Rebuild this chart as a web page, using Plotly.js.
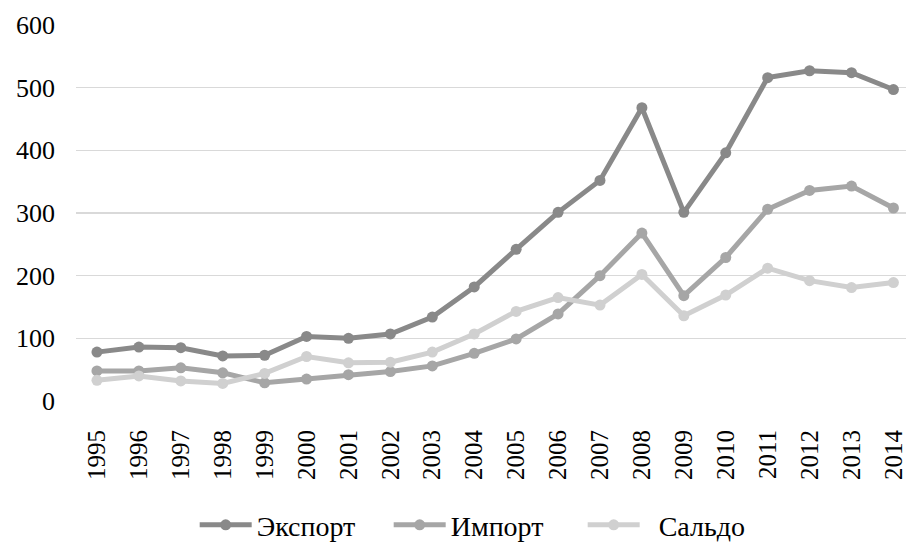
<!DOCTYPE html>
<html>
<head>
<meta charset="utf-8">
<script src="https://cdn.plot.ly/plotly-3.0.1.min.js"></script>
<style>html,body{margin:0;padding:0;background:#fff;overflow:hidden}</style>
</head>
<body>
<div id="chart" style="width:906px;height:560px"></div>
<script>
const years = ["1995","1996","1997","1998","1999","2000","2001","2002","2003","2004","2005","2006","2007","2008","2009","2010","2011","2012","2013","2014"];
const exportVals = [78, 86, 85, 72, 73, 103, 100, 107, 134, 182, 242, 301, 352, 468, 301, 396, 516, 527, 524, 497];
const importVals = [48, 48, 53, 45, 29, 35, 42, 47, 56, 76, 99, 139, 200, 268, 168, 229, 306, 336, 343, 308];
const saldoVals  = [33, 40, 32, 28, 44, 71, 61, 62, 78, 107, 143, 165, 153, 202, 136, 169, 212, 192, 181, 189];
const yTicks = [0, 100, 200, 300, 400, 500, 600];
const seriesNames = ["Экспорт", "Импорт", "\u00a0\u00a0Сальдо"];

const font = "Liberation Serif, Times New Roman, serif";
function tr(name, y, color) {
  return {
    x: years, y: y, name: name, type: "scatter", mode: "lines+markers",
    line: {color: color, width: 5},
    marker: {color: color, size: 11}
  };
}
const data = [
  tr(seriesNames[0], exportVals, "#898989"),
  tr(seriesNames[1], importVals, "#a6a6a6"),
  tr(seriesNames[2], saldoVals, "#d0d0d0")
];
const layout = {
  width: 906, height: 560,
  margin: {l: 76, r: 0, t: 25, b: 159},
  paper_bgcolor: "#fff", plot_bgcolor: "#fff",
  font: {family: font, color: "#000", size: 22},
  showlegend: true,
  legend: {orientation: "h", x: 0.143, xanchor: "left", y: -0.33, yanchor: "middle",
           bgcolor: "rgba(0,0,0,0)",
           font: {family: font, size: 28, color: "#000"}, itemwidth: 52,
           entrywidth: 127, entrywidthmode: "pixels", traceorder: "normal"},
  xaxis: {
    type: "category", range: [-0.5, 19.3],
    tickangle: -90, tickfont: {family: font, size: 25, color: "#000"},
    showgrid: false, zeroline: false, showline: false, ticks: "",
    ticklabelstandoff: 23
  },
  yaxis: {
    range: [0, 600], tickvals: yTicks, ticktext: yTicks.map(String),
    tickfont: {family: font, size: 26, color: "#000"},
    showgrid: true, gridcolor: "#d9d9d9", gridwidth: 1.5,
    zeroline: false, showline: false, ticks: "", ticklabelstandoff: 20
  }
};
Plotly.newPlot("chart", data, layout, {staticPlot: true});
</script>
</body>
</html>
